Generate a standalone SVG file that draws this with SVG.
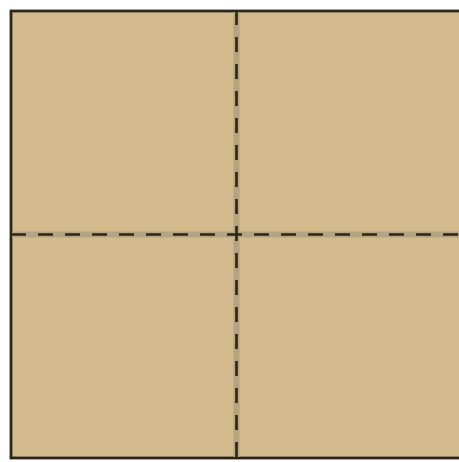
<svg xmlns="http://www.w3.org/2000/svg" width="459" height="462" viewBox="0 0 459 462">
<style>
.sheet{fill:#d3bb8d;stroke:#2b2519;stroke-width:2.8}
.halo{stroke:#b3a482;stroke-width:6;fill:none}
.fold{stroke:#2b2519;stroke-width:2.6;stroke-dasharray:15 12;fill:none}
</style>
<rect width="459" height="462" fill="#ffffff"/>
<g id="sheet">
<rect class="sheet" x="11" y="11" width="452" height="447"/>
</g>
<g id="folds">
<line class="halo" x1="236.5" y1="12" x2="236.5" y2="457"/>
<line class="halo" x1="12" y1="234.5" x2="459" y2="234.5"/>
<line class="fold" x1="236.5" y1="10" x2="236.5" y2="458"/>
<line class="fold" x1="11" y1="234.5" x2="459" y2="234.5"/>
</g>
</svg>
